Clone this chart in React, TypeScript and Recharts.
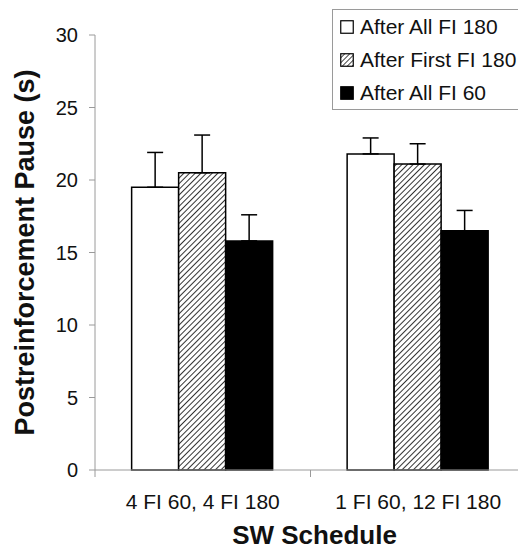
import { Bar, BarChart, ErrorBar, XAxis, YAxis } from 'recharts';

const categories = ['4 FI 60, 4 FI 180', '1 FI 60, 12 FI 180'];
const afterAllFI180 = [19.5, 21.8];
const afterAllFI180Err = [2.4, 1.1];
const afterFirstFI180 = [20.5, 21.1];
const afterFirstFI180Err = [2.6, 1.4];
const afterAllFI60 = [15.8, 16.5];
const afterAllFI60Err = [1.8, 1.4];
const yTicks = [0, 5, 10, 15, 20, 25, 30];

const FONT = '"Liberation Sans", Arial, sans-serif';
const AXIS_GREY = '#9a9a9a';

const data = categories.map((name, i) => ({
  name,
  a: afterAllFI180[i],
  aErr: [0, afterAllFI180Err[i]],
  f: afterFirstFI180[i],
  fErr: [0, afterFirstFI180Err[i]],
  s: afterAllFI60[i],
  sErr: [0, afterAllFI60Err[i]],
}));

const legendItems = [
  { label: 'After All FI 180', fill: '#fff' },
  { label: 'After First FI 180', fill: 'url(#lhatch)' },
  { label: 'After All FI 60', fill: '#000' },
];

function LegendBox() {
  return (
    <div style={{ position: 'absolute', left: 332, top: 9, border: `1px solid ${AXIS_GREY}`, width: 200,
      fontFamily: FONT, fontSize: 21, color: '#111', background: '#fff' }}>
      <svg width={0} height={0} style={{ position: 'absolute' }}>
        <defs>
          <pattern id="lhatch" width="3.5" height="3.5" patternUnits="userSpaceOnUse" patternTransform="rotate(45)">
            <rect width="3.5" height="3.5" fill="#fff" />
            <line x1="0" y1="0" x2="0" y2="3.5" stroke="#000" strokeWidth="1.4" />
          </pattern>
        </defs>
      </svg>
      {legendItems.map((it) => (
        <div key={it.label} style={{ display: 'flex', alignItems: 'center', height: 33 }}>
          <svg width={14} height={14} style={{ marginLeft: 7, marginRight: 6 }}>
            <rect x={0.75} y={0.75} width={12.5} height={12.5} stroke="#000" strokeWidth={1.2} fill={it.fill} />
          </svg>
          <span>{it.label}</span>
        </div>
      ))}
    </div>
  );
}

// category tick: label under the group, plus the Excel-style tick on the group's boundaries
const CatTick = (props: any) => {
  const { x, y, payload, width, visibleTicksCount } = props;
  const half = width / visibleTicksCount / 2;
  return (
    <g>
      <line x1={x - half} x2={x - half} y1={y} y2={y + 7} stroke={AXIS_GREY} />
      <line x1={x + half} x2={x + half} y1={y} y2={y + 7} stroke={AXIS_GREY} />
      <text x={x} y={y + 24} dy="0.71em" textAnchor="middle" fontFamily={FONT} fontSize={21} fill="#111">
        {payload.value}
      </text>
    </g>
  );
};

const yLabel = ({ viewBox }: any) => {
  const cx = viewBox.x + 25;
  const cy = viewBox.y + viewBox.height / 2;
  return (
    <text x={cx} y={cy} transform={`rotate(-90, ${cx}, ${cy})`} textAnchor="middle" dominantBaseline="central"
      fontFamily={FONT} fontSize={27} fontWeight="bold" fill="#111">
      Postreinforcement Pause (s)
    </text>
  );
};

const xLabel = ({ viewBox }: any) => {
  const cx = viewBox.x + viewBox.width / 2 + 4;
  const cy = viewBox.y + 65;
  return (
    <text x={cx} y={cy} textAnchor="middle" dominantBaseline="central"
      fontFamily={FONT} fontSize={26} fontWeight="bold" fill="#111">
      SW Schedule
    </text>
  );
};

export default function App() {
  return (
    <div style={{ position: 'absolute', left: 0, top: 0, width: 518, height: 551, overflow: 'hidden', background: '#fff' }}>
      <BarChart width={526} height={551} data={data} margin={{ top: 35, right: 0, bottom: 0, left: 0 }}
        barCategoryGap="17%" barGap={0}>
        <defs>
          <pattern id="hatch" width="4" height="4" patternUnits="userSpaceOnUse" patternTransform="rotate(45)">
            <rect width="4" height="4" fill="#fff" />
            <line x1="0" y1="0" x2="0" y2="4" stroke="#000" strokeWidth="1.6" />
          </pattern>
        </defs>
        <XAxis dataKey="name" height={81} axisLine={{ stroke: AXIS_GREY }} tickLine={false} tickSize={0}
          tickMargin={0} tick={<CatTick />} label={xLabel} />
        <YAxis width={95} domain={[0, 30]} ticks={yTicks} tickSize={6} tickMargin={11} stroke={AXIS_GREY}
          tick={{ fontFamily: FONT, fontSize: 20, fill: '#111' }} label={yLabel} />
        <Bar dataKey="a" fill="#fff" stroke="#000" strokeWidth={1.5} isAnimationActive={false}>
          <ErrorBar dataKey="aErr" width={8} stroke="#000" strokeWidth={1.5} direction="y" />
        </Bar>
        <Bar dataKey="f" fill="url(#hatch)" stroke="#000" strokeWidth={1.5} isAnimationActive={false}>
          <ErrorBar dataKey="fErr" width={8} stroke="#000" strokeWidth={1.5} direction="y" />
        </Bar>
        <Bar dataKey="s" fill="#000" stroke="#000" strokeWidth={1.5} isAnimationActive={false}>
          <ErrorBar dataKey="sErr" width={8} stroke="#000" strokeWidth={1.5} direction="y" />
        </Bar>
      </BarChart>
      <LegendBox />
    </div>
  );
}
